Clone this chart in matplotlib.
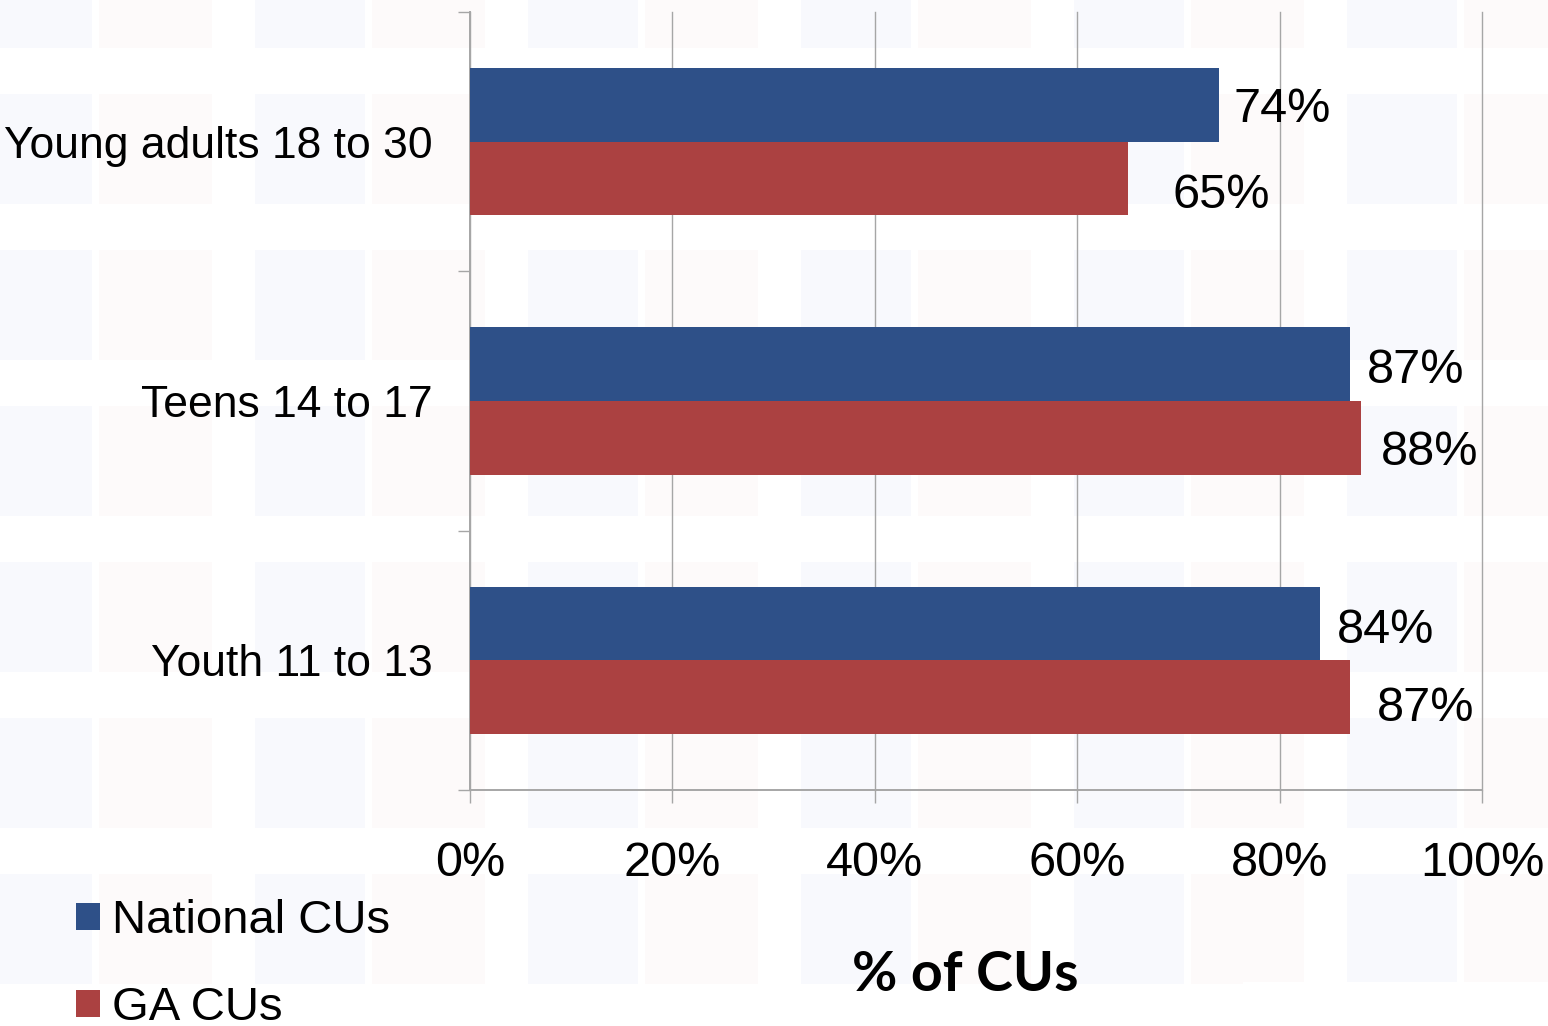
import matplotlib
matplotlib.use("Agg")
import matplotlib.pyplot as plt
from matplotlib.patches import Rectangle, Patch
from matplotlib.ticker import FixedLocator, PercentFormatter
import numpy as np

# ---- data -------------------------------------------------------------
categories = ["Youth 11 to 13", "Teens 14 to 17", "Young adults 18 to 30"]
national_cus = [84, 87, 74]
ga_cus = [87, 88, 65]
series_names = ["National CUs", "GA CUs"]
x_ticks = [0, 20, 40, 60, 80, 100]
x_title = "% of CUs"

# ---- style ------------------------------------------------------------
BLUE = "#2E5088"
RED = "#AB4141"
GRID = "#A6A6A6"
TEXT_FONT = ["Liberation Sans", "DejaVu Sans"]
TITLE_FONT = ["Lato", "DejaVu Sans"]

W, H, DPI = 15.48, 10.26, 100
fig = plt.figure(figsize=(W, H), dpi=DPI)
fig.patch.set_facecolor("white")

# faint tiled slide backdrop
bg = fig.add_axes([0, 0, 1, 1], zorder=-10)
bg.set_xlim(0, W * DPI)
bg.set_ylim(H * DPI, 0)
bg.axis("off")
for row_top in np.arange(-62, H * DPI, 156):
    for col_left in np.arange(-18, W * DPI, 273):
        bg.add_patch(Rectangle((col_left, row_top), 110, 110,
                               facecolor="#F8F9FD", edgecolor="none"))
        bg.add_patch(Rectangle((col_left + 117, row_top), 113, 110,
                               facecolor="#FDFAFA", edgecolor="none"))
# white strip behind the logo corner
bg.add_patch(Rectangle((1243, 982), 400, 60, facecolor="white", edgecolor="none"))

# ---- chart ------------------------------------------------------------
ax = fig.add_axes([470 / 1548, 1 - 790 / 1026, 1012 / 1548, 778 / 1026])
ax.set_facecolor("none")

y = np.arange(len(categories))
bar_h = 0.284
ax.barh(y + bar_h / 2, national_cus, height=bar_h, color=BLUE, zorder=3,
        label=series_names[0])
ax.barh(y - bar_h / 2, ga_cus, height=bar_h, color=RED, zorder=3,
        label=series_names[1])

# value labels (x nudge, y nudge in pixels)
blue_nudge = [(17, 2), (16, 1), (15, 0)]
red_nudge = [(26, 6), (20, 10), (45, 12)]
px2pt = 72 / DPI
for i in range(len(categories)):
    for val, yy, (dx, dy) in ((national_cus[i], y[i] + bar_h / 2, blue_nudge[i]),
                              (ga_cus[i], y[i] - bar_h / 2, red_nudge[i])):
        ax.annotate(f"{val}%", xy=(val, yy), xytext=(dx * px2pt, -dy * px2pt),
                    textcoords="offset points", ha="left", va="center_baseline",
                    fontsize=35, family=TEXT_FONT, color="black", zorder=4)

ax.set_xlim(0, 100)
ax.set_ylim(-0.5, len(categories) - 0.5)

ax.xaxis.set_major_locator(FixedLocator(x_ticks))
ax.xaxis.set_major_formatter(PercentFormatter(decimals=0))
ax.grid(axis="x", color=GRID, linewidth=1.0, zorder=1)
ax.set_axisbelow(True)
for gl in ax.get_xgridlines():
    gl.set_clip_on(False)

# category boundaries as ticks, names in between
ax.set_yticks(np.arange(-0.5, len(categories), 1.0))
ax.set_yticklabels([])
ax.set_yticks(y, minor=True)
ax.set_yticklabels(categories, minor=True)
ax.tick_params(axis="y", which="major", length=9, width=1.0, color=GRID,
               direction="out")
ax.tick_params(axis="y", which="minor", length=0, pad=27, labelsize=32)
ax.tick_params(axis="x", length=9.5, width=1.0, color=GRID, direction="out",
               pad=27, labelsize=35)
for lab in ax.get_xticklabels() + ax.get_yticklabels(minor=True):
    lab.set_family(TEXT_FONT)

for side in ("top", "right"):
    ax.spines[side].set_visible(False)
for side in ("left", "bottom"):
    ax.spines[side].set_color(GRID)
    ax.spines[side].set_linewidth(1.4)

# axis title
fig.text(965 / 1548, 1 - 975 / 1026, x_title, ha="center", va="center",
         fontsize=40, fontweight="bold", family=TITLE_FONT)

# legend
handles = [Patch(facecolor=BLUE), Patch(facecolor=RED)]
fig.legend(handles, series_names, loc="upper left",
           bbox_to_anchor=(76 / 1548, 1 - 899 / 1026), frameon=False,
           borderpad=0, borderaxespad=0, handlelength=0.5, handleheight=0.5,
           handletextpad=0.26, labelspacing=0.92,
           prop={"family": TEXT_FONT, "size": 34})

fig.savefig("out.png", dpi=DPI)
